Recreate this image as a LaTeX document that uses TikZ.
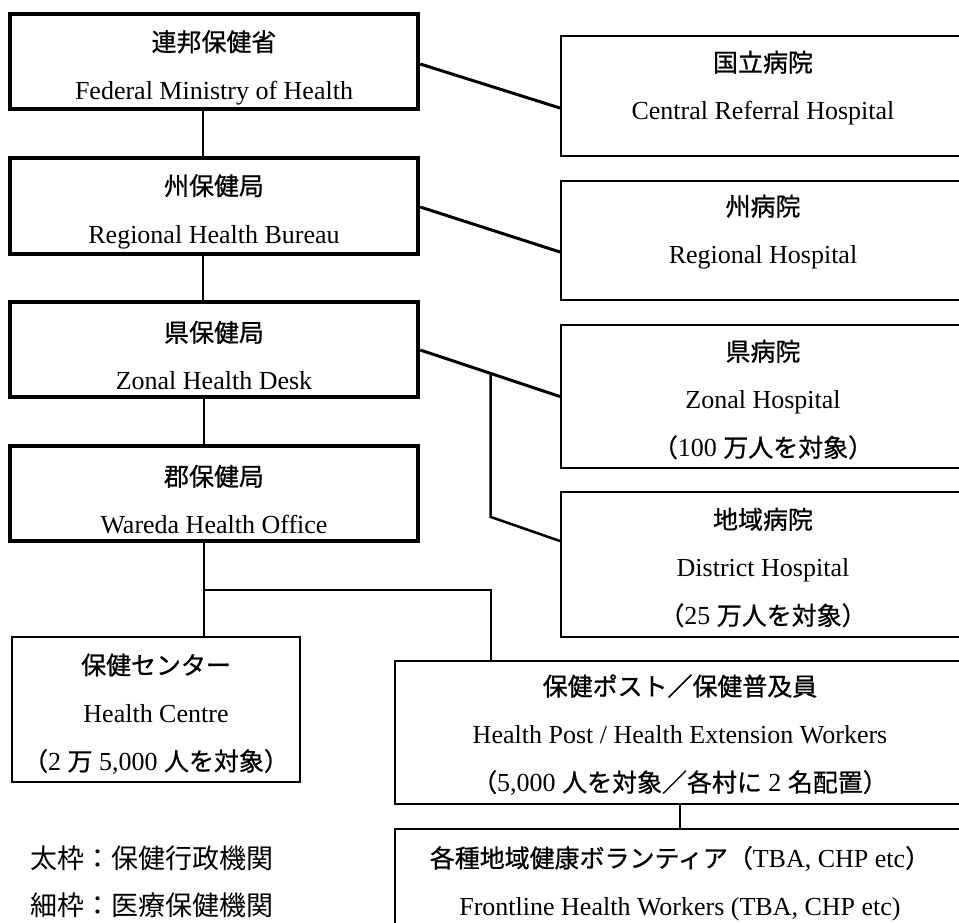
\documentclass[tikz,border=0pt]{standalone}
\usepackage{fontspec}
\setmainfont{Liberation Serif}
\newfontfamily\jp{Noto Sans CJK JP}
\newfontfamily\jpb{Noto Sans CJK JP}[FakeBold=0.8,Scale=0.96]
\usetikzlibrary{calc}
\begin{document}
\begin{tikzpicture}[x=1pt,y=-1pt,
  thickbox/.style={draw, line width=4.5pt, rectangle, inner sep=0pt},
  thinbox/.style={draw, line width=2pt, rectangle, inner sep=0pt},
  txt/.style={align=center, inner sep=0pt, font=\fontsize{26}{48}\selectfont},
  slant/.style={line width=3pt},
  conn/.style={line width=2pt},
  legend/.style={anchor=west, inner sep=0pt, font=\jp\fontsize{27}{30}\selectfont}]
\useasboundingbox (0,0) rectangle (959,922);
\clip (0,0) rectangle (959,922);
\fill[white] (0,0) rectangle (959,922);

% administrative (thick) boxes
\node[thickbox, minimum width=408pt, minimum height=95pt] (fed) at (214,61.5) {};
\node[thickbox, minimum width=408pt, minimum height=96pt] (bur) at (214,206) {};
\node[thickbox, minimum width=408pt, minimum height=95pt] (zon) at (214,349.5) {};
\node[thickbox, minimum width=408pt, minimum height=95pt] (war) at (214,493.5) {};

% health facility (thin) boxes
\node[thinbox, minimum width=404pt, minimum height=120pt] (crh) at (763,96) {};
\node[thinbox, minimum width=404pt, minimum height=119pt] (rh) at (763,240.5) {};
\node[thinbox, minimum width=404pt, minimum height=143pt] (zh) at (763,396.5) {};
\node[thinbox, minimum width=404pt, minimum height=145pt] (dh) at (763,564.5) {};
\node[thinbox, minimum width=288pt, minimum height=145pt] (hc) at (156,709.5) {};
\node[thinbox, minimum width=570pt, minimum height=143pt] (hp) at (680,732.5) {};
\node[thinbox, minimum width=570pt, minimum height=131pt] (fw) at (680,894.5) {};

% texts
\node[txt] (fedt) at ([yshift=-6pt]fed.center) {{\jpb 連邦保健省}\\Federal Ministry of Health};
\node[txt] (burt) at ([yshift=-5.5pt]bur.center) {{\jpb 州保健局}\\Regional Health Bureau};
\node[txt] (zont) at ([yshift=-6pt]zon.center) {{\jpb 県保健局}\\Zonal Health Desk};
\node[txt] (wart) at ([yshift=-6pt]war.center) {{\jpb 郡保健局}\\Wareda Health Office};
\node[txt] (crht) at ([yshift=8pt]crh.center) {{\jpb 国立病院}\\Central Referral Hospital};
\node[txt] (rht) at ([yshift=8.5pt]rh.center) {{\jpb 州病院}\\Regional Hospital};
\node[txt] (zht) at ([yshift=-3pt]zh.center) {{\jpb 県病院}\\Zonal Hospital\\{\jpb （}100 {\jpb 万人を対象）}};
\node[txt] (dht) at ([yshift=-3pt]dh.center) {{\jpb 地域病院}\\District Hospital\\{\jpb （}25 {\jpb 万人を対象）}};
\node[txt] (hct) at ([yshift=-4.5pt]hc.center) {{\jpb 保健センター}\\Health Centre\\{\jpb （}2 {\jpb 万} 5,000 {\jpb 人を対象）}};
\node[txt] (hpt) at ([yshift=-2.5pt]hp.center) {{\jpb 保健ポスト／保健普及員}\\Health Post / Health Extension Workers\\{\jpb （}5,000 {\jpb 人を対象／各村に} 2 {\jpb 名配置）}};
\node[txt] (fwt) at ([yshift=11pt]fw.center) {{\jpb 各種地域健康ボランティア（}TBA, CHP etc{\jpb ）}\\Frontline Health Workers (TBA, CHP etc)};

% legend
\node[legend] (leg1) at (30,858) {太枠：保健行政機関};
\node[legend] (leg2) at (30,905) {細枠：医療保健機関};

% vertical chain
\draw[conn] ([xshift=-11pt]fed.south) -- ([xshift=-11pt]bur.north);
\draw[conn] ([xshift=-11pt]bur.south) -- ([xshift=-11pt]zon.north);
\draw[conn] ([xshift=-10pt]zon.south) -- ([xshift=-10pt]war.north);
\draw[conn] ([xshift=-10pt]war.south) -- ([xshift=-10pt]war.south |- hc.north);
\draw[conn] ($([xshift=-10pt]war.south)!0.5!([xshift=-10pt]war.south |- hc.north)$) -| ([xshift=-189pt]hp.north);
\draw[conn] (hp.south) -- (fw.north);

% slanted links
\draw[slant] ([yshift=-2.5pt]fed.east) -- ([yshift=-12pt]crh.west);
\draw[slant] ([yshift=-1pt]bur.east) -- ([yshift=-11.5pt]rh.west);
\coordinate (za) at ([yshift=-0.5pt]zon.east);
\coordinate (zb) at (zh.west);
\draw[slant] (za) -- (zb);
\draw[line width=2.5pt, line join=miter] ($(za)!0.5035!(zb)$) -- ++(0,143.5) -- ([yshift=23.5pt]dh.west);
\end{tikzpicture}
\end{document}
